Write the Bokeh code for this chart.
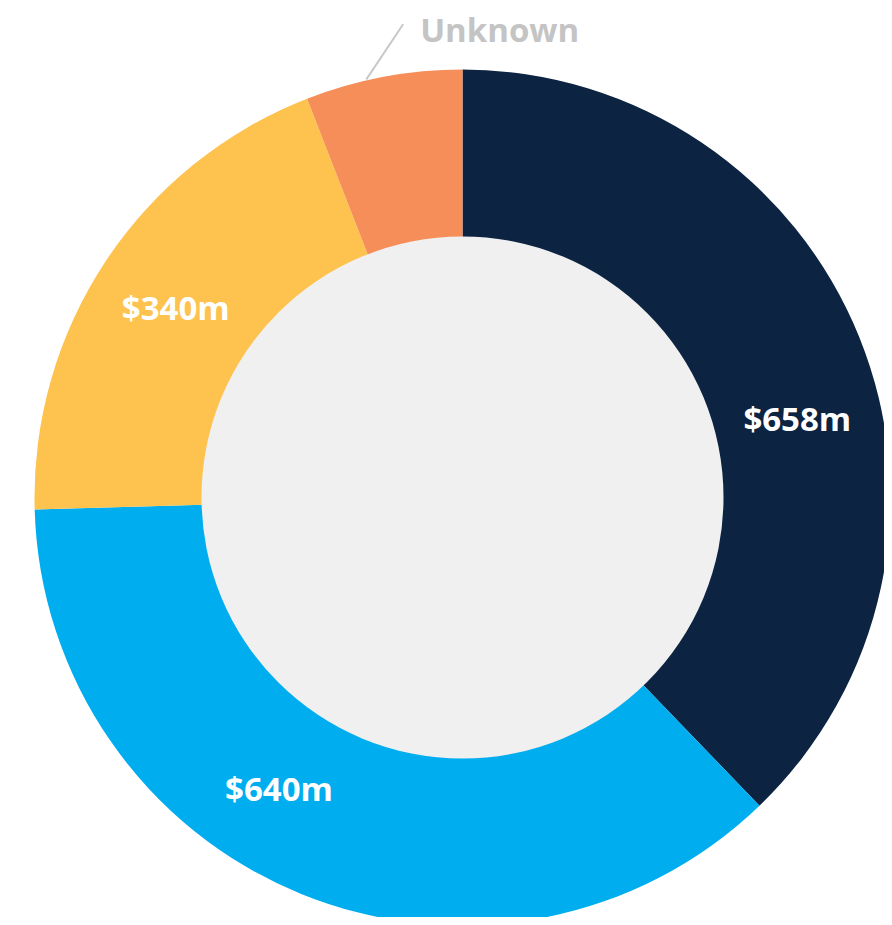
import math
from bokeh.plotting import figure
from bokeh.models import Range1d, ColumnDataSource
from bokeh.core.properties import value
from bokeh.embed import file_html
from bokeh.resources import INLINE

# ---- data ----
categories = ["Known A", "Known B", "Known C", "Unknown"]
amounts = [658, 640, 340, 103]
labels = ["$658m", "$640m", "$340m", "Unknown"]
colors = ["#0c2442", "#00adef", "#fec34e", "#f68e5a"]

# ---- layout / style ----
W, H = 884, 917
CX, CY = 462, 420
R_OUT, R_IN = 428, 261
R_LABEL = 344
label_angle_offset = [8.7, 10.0, 0.0]  # degrees, clockwise

total = sum(amounts)
starts, ends, mids = [], [], []
acc = 0.0
for a in amounts:
    s = acc / total * 2 * math.pi
    acc += a
    e = acc / total * 2 * math.pi
    starts.append(math.pi / 2 - s)
    ends.append(math.pi / 2 - e)
    mids.append((s + e) / 2)

p = figure(width=W, height=H, output_backend="svg", toolbar_location=None,
           x_range=Range1d(0, W), y_range=Range1d(0, H), min_border=0,
           outline_line_color=None, background_fill_color="white",
           border_fill_color="white")
p.axis.visible = False
p.grid.visible = False

src = ColumnDataSource(dict(x=[CX] * len(amounts), y=[CY] * len(amounts),
                            start=starts, end=ends, color=colors, cat=categories))
p.annular_wedge(x="x", y="y", inner_radius=R_IN - 2, outer_radius=R_OUT,
                start_angle="start", end_angle="end", direction="clock",
                fill_color="color", line_color=None, source=src)
p.scatter(x=[CX], y=[CY], size=2 * R_IN, marker="circle",
          fill_color="#f0f0f0", line_color=None)

# value labels for the three named slices
lx, ly = [], []
for i in range(3):
    ang = mids[i] + math.radians(label_angle_offset[i])
    lx.append(CX + R_LABEL * math.sin(ang))
    ly.append(CY + R_LABEL * math.cos(ang))
p.text(x=lx, y=ly, text=labels[:3], text_color="white",
       text_font=value("Open Sans"), text_font_style="bold",
       text_font_size="33px", text_align="center", text_baseline="middle")

# Unknown leader line and label
a0 = mids[3] - math.radians(2.3)
a1 = mids[3] + math.radians(3.5)
x0 = CX + (R_OUT + 1) * math.sin(a0)
y0 = CY + (R_OUT + 1) * math.cos(a0)
x1 = CX + 477 * math.sin(a1)
y1 = CY + 477 * math.cos(a1)
p.line(x=[x0, x1], y=[y0, y1], line_color="#c8c8c8", line_width=2)
p.text(x=[x1 + 17], y=[y1 - 5], text=[labels[3]], text_color="#c4c4c4",
       text_font=value("Open Sans"), text_font_style="bold",
       text_font_size="33px", text_align="left", text_baseline="middle")

open("out.html", "w").write(file_html(p, INLINE))
